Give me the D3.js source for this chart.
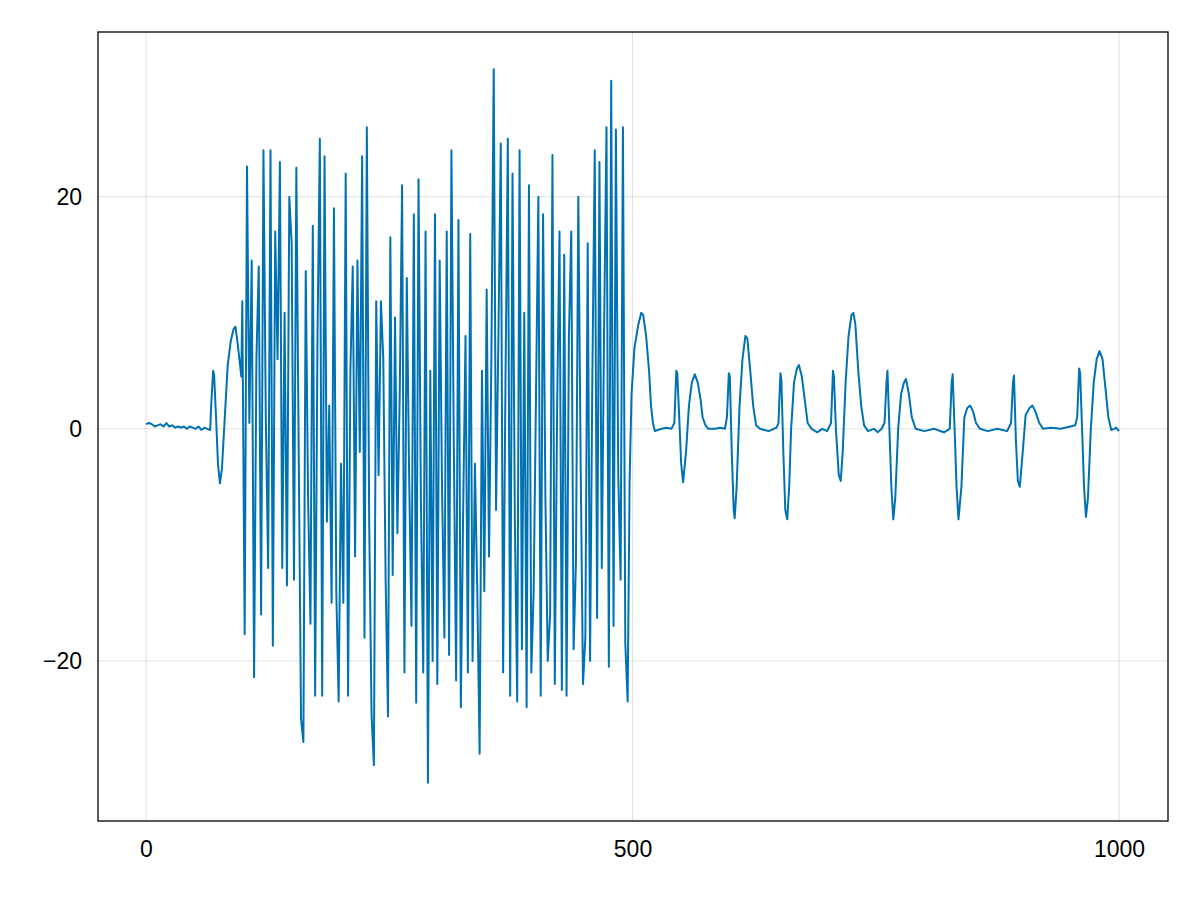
<!DOCTYPE html>
<html><head><meta charset="utf-8">
<script src="https://cdn.jsdelivr.net/npm/d3@7"></script>
<style>body{margin:0;background:#fff}</style></head>
<body><svg id="c" width="1200" height="900"></svg>
<script>
const xTicks=[0,500,1000];
const yTicks=[-20,0,20];
const leadPoints=[[0,0.4],[3,0.5],[6,0.4],[9,0.2],[12,0.3],[15,0.4],[18,0.2],[21,0.5],[24,0.2],[27,0.3],[30,0.1],[33,0.2],[36,0.1],[39,0.2],[42,0],[45,0.2],[48,0.1],[51,0],[54,0.2],[57,-0.1],[60,0.1],[63,0],[66,-0.1],
[67,2],[69,5],[70,4.7],[72,1],[74,-3],[76,-4.7],[78,-3.5],[81,1],[84,5.5],[87,7.5],[90,8.6],[92,8.8],[94,7.5],[96,6],[98,4.5]];
const noiseStart=99, noiseEnd=495;
const noiseValues=[11,-17.7,22.6,0.5,14.5,-21.4,6,14,-16,24,1,-12,24,-18.7,17,6,23,-12,10,-13.5,20,16,-13,22.5,-2,-25,-27,13.6,-6,-16.8,17.5,-23,8,25,-23,23.5,-8,2,-15,19,-14,-23.5,-3,-15,22,-23,5,14,-11,14.5,-2,23.5,-18,26,-8,-24.6,-29,11,-4,11,6,-13,-24.8,16.5,-12.6,9.6,-9,3,21,-21,13,-4,-17,18.5,-23.6,21.5,-6,-21,17,-30.5,5,-20,18.5,-22,14.5,-5,-18,17,-19.5,24,-1,-21.7,18,-24,-7,8,-21,16.8,-20,-3,-14,-28,5,-14,12,-11,6,31,-7,8,24.6,-21,4,25,-23,22,-8,-23.5,24,-19,10,-24,21,-21,-14,3,20,-23,18.5,-6,-20,-16,23.6,-22,2,17,-22.5,15,-23,8,17,-19,-11.5,20,-3,-22,-18,16,-20,5,24,-16.3,23,-12,9,26,-20.5,30,-17,25.8,-4,-13,26,-18.5,-23.5];
const tailPoints=[[497,-4.5],[499,3],[502,7],[506,9],[509,10],[511,9.8],[514,8],[517,5],[519,2],[521,0.5],[523,-0.2],[526,-0.1],[530,0],[535,0.1],[540,0],[543,0.5],[545,5],[546,4.8],[548,1],[550,-3],[552,-4.6],[555,-2],[558,2],[561,4],[564,4.7],[567,4],[570,2.5],[572,1],[575,0.3],[578,0],[585,0],[590,0.1],[595,0],[597,1],[599,4.8],[600,4.5],[602,-2],[604,-7],[605,-7.7],[607,-5],[610,2],[613,6],[616,8],[618,7.8],[621,5],[624,2],[627,0.3],[631,0],[640,-0.2],[648,0.1],[650,0.5],[652,4.8],[653,4.2],[655,-2],[657,-7],[659,-7.8],[661,-5],[663,0],[666,4],[669,5.2],[671,5.5],[674,4.5],[677,2.5],[680,0.5],[684,0],[690,-0.3],[695,0],[700,-0.2],[704,0.5],[706,5],[707,4.5],[709,0],[712,-4],[714,-4.5],[716,-2],[719,4],[722,8],[725,9.8],[727,10],[729,9],[732,5],[735,2],[738,0.3],[742,-0.2],[748,0],[752,-0.3],[756,0],[759,0.5],[761,4],[762,5],[764,0],[766,-5],[768,-7.8],[770,-6],[773,0],[776,3],[779,4],[781,4.3],[784,3],[787,1],[791,0],[800,-0.2],[810,0],[820,-0.3],[826,0],[828,4],[829,4.7],[831,0],[833,-5],[835,-7.8],[838,-5],[841,1],[844,1.8],[847,2],[850,1.5],[853,0.5],[857,0],[865,-0.2],[875,0],[885,-0.2],[889,0.5],[891,4],[892,4.6],[894,-1],[896,-4.5],[898,-5],[901,-2],[904,1.2],[908,1.8],[911,2],[914,1.5],[918,0.5],[922,0],[930,0.1],[940,0],[950,0.2],[955,0.3],[957,1],[959,5.2],[960,4.8],[962,0],[964,-5],[966,-7.6],[968,-6],[971,0],[974,4],[977,6],[980,6.7],[983,6],[986,3.5],[989,1],[992,-0.1],[995,0],[997,0.1],[1000,-0.2]];

const noisePoints=noiseValues.map((v,i)=>[noiseStart+i*(noiseEnd-noiseStart)/(noiseValues.length-1),v]);
const data=leadPoints.concat(noisePoints,tailPoints);

const L=98,R=1168,T=32,B=821;
const x=d3.scaleLinear().domain([-49.3,1050.3]).range([L,R]);
const y=d3.scaleLinear().domain([-33.8,34.2]).range([B,T]);
const svg=d3.select("#c");
const g=svg.append("g");
g.selectAll(".gx").data(xTicks).enter().append("line").attr("x1",d=>x(d)).attr("x2",d=>x(d)).attr("y1",T).attr("y2",B).attr("stroke","#000").attr("stroke-opacity",0.12);
g.selectAll(".gy").data(yTicks).enter().append("line").attr("y1",d=>y(d)).attr("y2",d=>y(d)).attr("x1",L).attr("x2",R).attr("stroke","#000").attr("stroke-opacity",0.12);
svg.append("path").datum(data).attr("d",d3.line().x(d=>x(d[0])).y(d=>y(d[1]))).attr("fill","none").attr("stroke","#0072b2").attr("stroke-width",2).attr("stroke-linejoin","round");
svg.append("rect").attr("x",L).attr("y",T).attr("width",R-L).attr("height",B-T).attr("fill","none").attr("stroke","#000").attr("stroke-width",1.3);
const xa=svg.append("g").attr("transform",`translate(0,${B})`).call(d3.axisBottom(x).tickValues(xTicks).tickSize(0).tickPadding(20).tickFormat(d3.format("d")));
const ya=svg.append("g").attr("transform",`translate(${L},0)`).call(d3.axisLeft(y).tickValues(yTicks).tickSize(0).tickPadding(16).tickFormat(d=>d<0?"\u2212"+(-d):d));
[xa,ya].forEach(a=>{a.select(".domain").remove();a.selectAll("text").attr("font-family","Liberation Sans, Arial, sans-serif").attr("font-size",23).attr("fill","#000");});
</script></body></html>
